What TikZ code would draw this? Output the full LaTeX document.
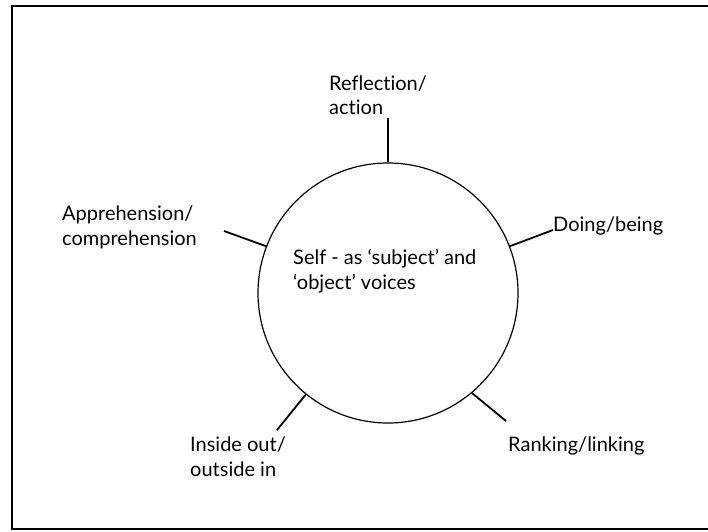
\documentclass[tikz,border=0pt]{standalone}
\usepackage{fontspec}
\setmainfont{Lato}[Ligatures=NoCommon]
\begin{document}
\begin{tikzpicture}[x=1pt, y=1pt,
    spoke/.style={line width=1.8pt},
    lbl/.style={font=\fontsize{20}{24.5}\selectfont, align=left, inner sep=0pt, anchor=base west}]
    \useasboundingbox (0,0) rectangle (708,531);
    \draw[line width=2.2pt] (12,2) rectangle (710,525);
    \node[circle, draw, line width=1.2pt, minimum size=260pt, inner sep=0pt] (self) at (388,238) {};
    % outer ends of the spokes
    \coordinate (e1) at (388,413);
    \coordinate (e2) at (553,301);
    \coordinate (e3) at (506,110);
    \coordinate (e4) at (277,101);
    \coordinate (e5) at (224,300);
    \foreach \a/\e in {90/e1, 21.6/e2, -50/e3, -129/e4, 159/e5} {
        \draw[spoke] (self.\a) -- (\e);
    }
    % multi-line labels sit on the baseline of their last line
    \node[lbl] (refl) at (329,416) {Reflection/\\action};
    \node[lbl] (doing) at (553,300) {Doing/being};
    \node[lbl] (rank) at (508,80) {Ranking/linking};
    \node[lbl] (inside) at (190,55) {Inside out/\\outside in};
    \node[lbl] (appr) at (62,286) {Apprehension/\\comprehension};
    \node[lbl] (voices) at (293,242) {Self - as ‘subject’ and\\‘object’ voices};
\end{tikzpicture}
\end{document}
